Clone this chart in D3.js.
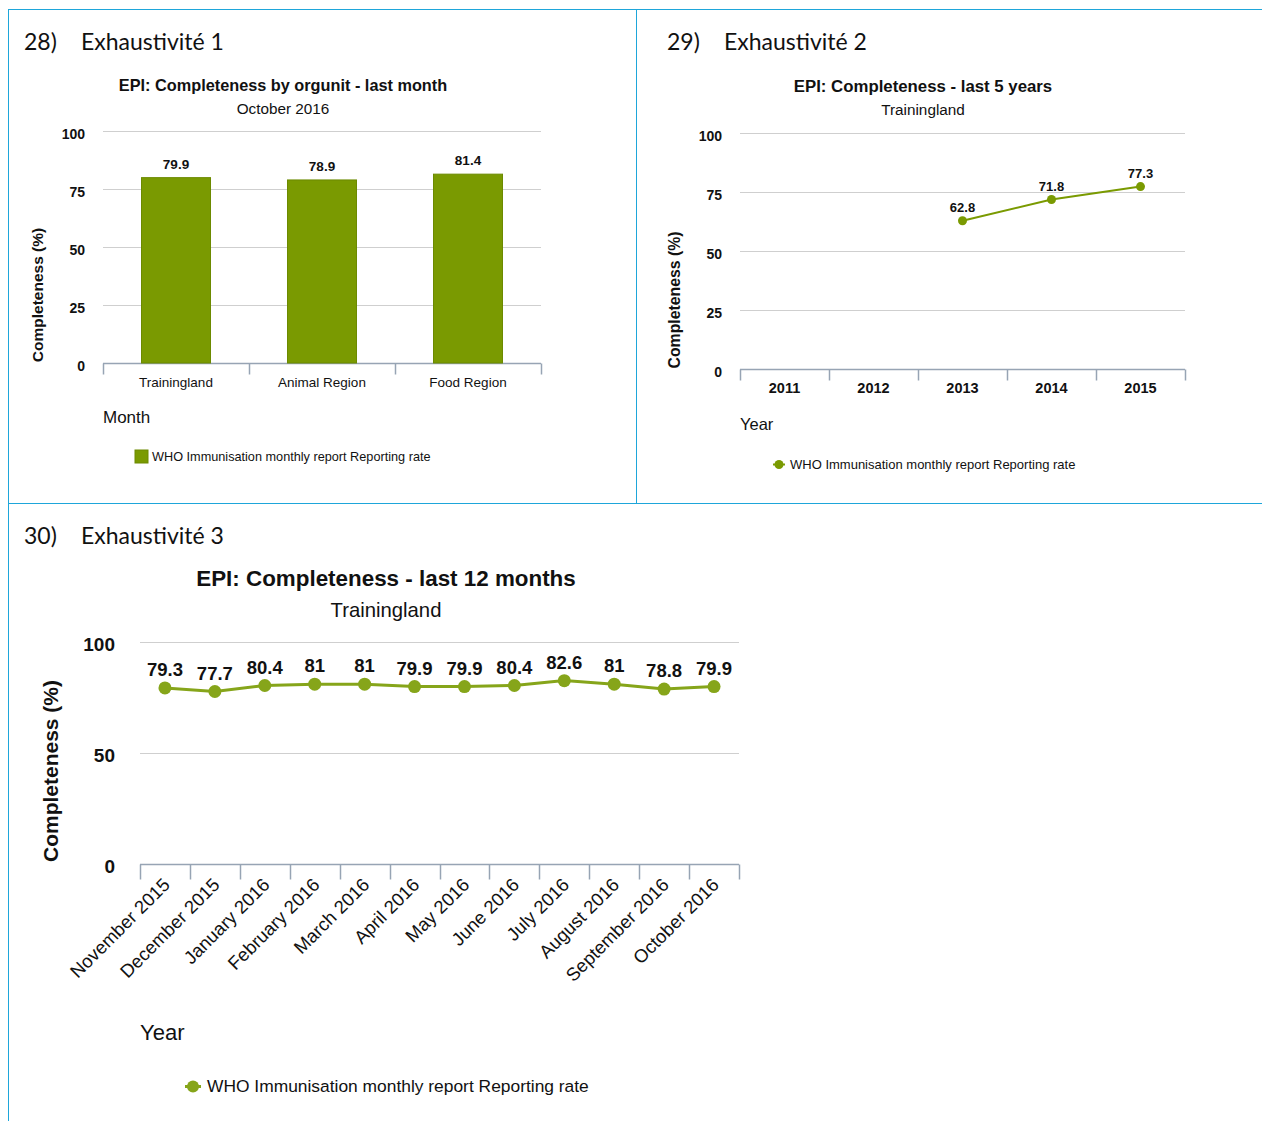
<!DOCTYPE html>
<html><head><meta charset="utf-8">
<script src="https://cdn.jsdelivr.net/npm/d3@7"></script>
<style>
html,body{margin:0;padding:0;background:#fff;}
svg{display:block;}
text{font-family:"Liberation Sans",Arial,sans-serif;fill:#111;}
.sec{font-family:Lato,"Open Sans",sans-serif;font-size:23px;fill:#111;}
</style></head>
<body>
<svg id="c" width="1262" height="1121"></svg>
<script>
// ---- data ----
const orgunits = ["Trainingland", "Animal Region", "Food Region"];
const orgunitValues = [79.9, 78.9, 81.4];
const years = ["2011", "2012", "2013", "2014", "2015"];
const yearValues = [null, null, 62.8, 71.8, 77.3];
const months = ["November 2015", "December 2015", "January 2016", "February 2016", "March 2016", "April 2016", "May 2016", "June 2016", "July 2016", "August 2016", "September 2016", "October 2016"];
const monthValues = [79.3, 77.7, 80.4, 81, 81, 79.9, 79.9, 80.4, 82.6, 81, 78.8, 79.9];
const ticks4 = [0, 25, 50, 75, 100];
const ticks3 = [0, 50, 100];
const seriesName = "WHO Immunisation monthly report Reporting rate";

const svg = d3.select("#c");
const border = "#1ea6da";

// panel borders
svg.append("line").attr("x1",8).attr("x2",1262).attr("y1",9.5).attr("y2",9.5).attr("stroke",border);
svg.append("line").attr("x1",8.5).attr("x2",8.5).attr("y1",9).attr("y2",1121).attr("stroke",border);
svg.append("line").attr("x1",636.5).attr("x2",636.5).attr("y1",9).attr("y2",503).attr("stroke",border);
svg.append("line").attr("x1",8).attr("x2",1262).attr("y1",503.5).attr("y2",503.5).attr("stroke",border);

// section headings
svg.append("text").attr("class","sec").attr("x",24).attr("y",50).text("28)");
svg.append("text").attr("class","sec").attr("x",81).attr("y",50).text("Exhaustivité 1");
svg.append("text").attr("class","sec").attr("x",667).attr("y",50).text("29)");
svg.append("text").attr("class","sec").attr("x",724).attr("y",50).text("Exhaustivité 2");
svg.append("text").attr("class","sec").attr("x",24).attr("y",544).text("30)");
svg.append("text").attr("class","sec").attr("x",81).attr("y",544).text("Exhaustivité 3");

const gridCol = "#cfcfcf", axisCol = "#97a4b4";

function frame(o){
  const g = svg.append("g");
  const y = d3.scaleLinear().domain([0,100]).range([o.y0, o.y1]);
  const x = d3.scaleBand().domain(o.cats).range([o.x0, o.x1]).paddingInner(0).paddingOuter(0);
  // title
  g.append("text").attr("x",o.tx).attr("y",o.ty).attr("text-anchor","middle").attr("font-weight","bold").attr("font-size",o.tfs).text(o.title);
  g.append("text").attr("x",o.tx).attr("y",o.ty+o.sdy).attr("text-anchor","middle").attr("font-size",o.sfs).text(o.sub);
  // grid
  g.selectAll(".grid").data(o.ticks.filter(t=>t>0)).enter().append("line")
    .attr("x1",o.x0).attr("x2",o.x1).attr("y1",d=>Math.round(y(d))+0.5).attr("y2",d=>Math.round(y(d))+0.5)
    .attr("stroke",gridCol).attr("stroke-width",1.2);
  // y axis labels
  const ya = g.append("g").attr("transform",`translate(${o.ylx},0)`)
    .call(d3.axisLeft(y).tickValues(o.ticks).tickSize(0).tickPadding(0));
  ya.select(".domain").remove();
  ya.selectAll("text").attr("font-weight","bold").attr("font-size",o.yfs).attr("fill","#111")
    .attr("dy",o.ydy).style("font-family","'Liberation Sans',Arial,sans-serif");
  // x axis
  const xa = g.append("g").attr("transform",`translate(0,${Math.round(o.y0)+0.5})`);
  xa.append("line").attr("x1",o.x0).attr("x2",o.x1).attr("stroke",axisCol).attr("stroke-width",1.5);
  const edges = o.cats.map(c=>x(c)).concat([o.x1]);
  xa.selectAll(".tk").data(edges).enter().append("line")
    .attr("x1",d=>Math.round(d)+0.5).attr("x2",d=>Math.round(d)+0.5).attr("y1",0).attr("y2",o.tickLen)
    .attr("stroke",axisCol).attr("stroke-width",1.5);
  // y title
  g.append("text").attr("transform",`translate(${o.ytx},${o.yty}) rotate(-90)`).attr("text-anchor","middle")
    .attr("font-weight","bold").attr("font-size",o.ytfs).text("Completeness (%)");
  // x title
  g.append("text").attr("x",o.x0).attr("y",o.xty).attr("font-size",o.xtfs).text(o.xtitle);
  return {g,x,y};
}

// ---- Panel 1: bar chart ----
(function(){
  const {g,x,y} = frame({cats:orgunits,x0:103,x1:541,y0:363,y1:131,ticks:ticks4,
    title:"EPI: Completeness by orgunit - last month",sub:"October 2016",tx:283,ty:91,sdy:23,tfs:16.3,sfs:15.3,
    ylx:85,yfs:14,ydy:"0.5em",tickLen:11,ytx:43,yty:295,ytfs:15.5,xtitle:"Month",xty:423,xtfs:17});
  const bw = 69;
  const data = orgunits.map((c,i)=>({c,v:orgunitValues[i]}));
  g.selectAll(".bar").data(data).enter().append("rect")
    .attr("x",d=>x(d.c)+x.bandwidth()/2-bw/2).attr("width",bw)
    .attr("y",d=>y(d.v)).attr("height",d=>y(0)-y(d.v))
    .attr("fill","#7a9a01").attr("stroke","#6c8a00").attr("stroke-width",1);
  g.selectAll(".vl").data(data).enter().append("text")
    .attr("x",d=>x(d.c)+x.bandwidth()/2).attr("y",d=>y(d.v)-9).attr("text-anchor","middle")
    .attr("font-weight","bold").attr("font-size",13.5).text(d=>d.v);
  g.selectAll(".xl").data(orgunits).enter().append("text")
    .attr("x",d=>x(d)+x.bandwidth()/2).attr("y",387).attr("text-anchor","middle")
    .attr("font-size",13.5).text(d=>d);
  g.append("rect").attr("x",135).attr("y",450).attr("width",13).attr("height",13).attr("fill","#7a9a01").attr("stroke","#6c8a00");
  g.append("text").attr("x",152).attr("y",461).attr("font-size",12.7).text(seriesName);
})();

// ---- Panel 2: 5 years ----
(function(){
  const {g,x,y} = frame({cats:years,x0:740,x1:1185,y0:369,y1:133,ticks:ticks4,
    title:"EPI: Completeness - last 5 years",sub:"Trainingland",tx:923,ty:92,sdy:23,tfs:16.8,sfs:15.3,
    ylx:722,yfs:14,ydy:"0.55em",tickLen:11,ytx:680,yty:300,ytfs:15.8,xtitle:"Year",xty:430,xtfs:16.5});
  const data = years.map((c,i)=>({c,v:yearValues[i]})).filter(d=>d.v!=null);
  const cx = d=>x(d.c)+x.bandwidth()/2;
  g.append("path").datum(data).attr("fill","none").attr("stroke","#7a9a01").attr("stroke-width",2)
    .attr("d",d3.line().x(cx).y(d=>y(d.v)));
  g.selectAll(".pt").data(data).enter().append("circle").attr("cx",cx).attr("cy",d=>y(d.v)).attr("r",4.5).attr("fill","#7a9a01");
  g.selectAll(".vl").data(data).enter().append("text").attr("x",cx).attr("y",d=>y(d.v)-9)
    .attr("text-anchor","middle").attr("font-weight","bold").attr("font-size",13).text(d=>d.v);
  g.selectAll(".xl").data(years).enter().append("text")
    .attr("x",d=>x(d)+x.bandwidth()/2).attr("y",393).attr("text-anchor","middle")
    .attr("font-weight","bold").attr("font-size",14.5).text(d=>d);
  g.append("line").attr("x1",773).attr("x2",785).attr("y1",464.5).attr("y2",464.5).attr("stroke","#7a9a01").attr("stroke-width",2);
  g.append("circle").attr("cx",779).attr("cy",464.5).attr("r",4.5).attr("fill","#7a9a01");
  g.append("text").attr("x",790).attr("y",468.5).attr("font-size",13).text(seriesName);
})();

// ---- Panel 3: 12 months ----
(function(){
  const col = "#86a51a";
  const {g,x,y} = frame({cats:months,x0:140,x1:739,y0:864,y1:642,ticks:ticks3,
    title:"EPI: Completeness - last 12 months",sub:"Trainingland",tx:386,ty:586,sdy:31,tfs:22.4,sfs:20.3,
    ylx:115,yfs:19,ydy:"0.45em",tickLen:15,ytx:58,yty:771,ytfs:21,xtitle:"Year",xty:1040,xtfs:22});
  const data = months.map((c,i)=>({c,v:monthValues[i]}));
  const cx = d=>x(d.c)+x.bandwidth()/2;
  g.append("path").datum(data).attr("fill","none").attr("stroke",col).attr("stroke-width",3)
    .attr("d",d3.line().x(cx).y(d=>y(d.v)));
  g.selectAll(".pt").data(data).enter().append("circle").attr("cx",cx).attr("cy",d=>y(d.v)).attr("r",6.5).attr("fill",col);
  g.selectAll(".vl").data(data).enter().append("text").attr("x",cx).attr("y",d=>y(d.v)-12)
    .attr("text-anchor","middle").attr("font-weight","bold").attr("font-size",18.5).text(d=>d.v);
  g.selectAll(".xl").data(months).enter().append("text")
    .attr("transform",d=>`translate(${x(d)+x.bandwidth()/2+6},${886}) rotate(-45)`)
    .attr("text-anchor","end").attr("font-size",18.5).text(d=>d);
  g.append("line").attr("x1",185).attr("x2",201).attr("y1",1086.5).attr("y2",1086.5).attr("stroke",col).attr("stroke-width",3);
  g.append("circle").attr("cx",193).attr("cy",1086.5).attr("r",6).attr("fill",col);
  g.append("text").attr("x",207).attr("y",1092).attr("font-size",17.4).text(seriesName);
})();
</script>
</body></html>
